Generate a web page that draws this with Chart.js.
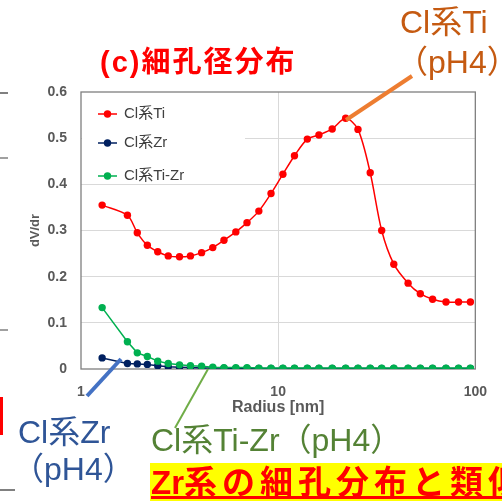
<!DOCTYPE html>
<html>
<head>
<meta charset="utf-8">
<script src="https://cdn.jsdelivr.net/npm/chart.js@4.4.1/dist/chart.umd.min.js"></script>
<style>
body { margin: 0; background: #fff; }
#wrap { position: relative; width: 502px; height: 502px; overflow: hidden; font-family: "Liberation Sans", "Noto Sans CJK JP", sans-serif; }
#chart { position: absolute; left: 0; top: 0; }
.t { position: absolute; white-space: nowrap; line-height: 1; }
.frag { position: absolute; }
svg { position: absolute; left: 0; top: 0; }
</style>
</head>
<body>
<div id="wrap">
  <canvas id="chart" width="502" height="502"></canvas>

  <div class="frag" style="left:0;top:92px;width:8px;height:2px;background:#808080"></div>
  <div class="frag" style="left:0;top:157px;width:8px;height:2px;background:#a0a0a0"></div>
  <div class="frag" style="left:0;top:329px;width:8px;height:2px;background:#a0a0a0"></div>
  <div class="frag" style="left:0;top:489px;width:15px;height:2px;background:#808080"></div>
  <div class="frag" style="left:0;top:397px;width:3px;height:38px;background:#ff0000"></div>

  <div class="t" style="left:100px;top:48px;font-size:29px;font-weight:bold;color:#ff0000;letter-spacing:2px">(c)細孔径分布</div>
  <div class="t" style="left:400px;top:6px;font-size:32px;color:#c55a11">Cl系Ti</div>
  <div class="t" style="left:396px;top:46px;font-size:32px;color:#c55a11">（pH4）</div>
  <div class="t" style="left:18px;top:416px;font-size:32px;color:#2f5597">Cl系Zr</div>
  <div class="t" style="left:12px;top:453px;font-size:32px;color:#2f5597">（pH4）</div>
  <div class="t" style="left:151px;top:424px;font-size:32px;color:#548235">Cl系Ti-Zr（pH4）</div>
  <div class="t" style="left:150px;top:463px;width:352px;height:38px;overflow:hidden;background:#ffff00;">
    <span style="position:absolute;left:1px;top:3px;font-size:33px;font-weight:bold;color:#ff0000;text-decoration:underline;line-height:1">Zr<span style="letter-spacing:5px">系の細孔分布と類似</span></span>
  </div>

  <svg width="502" height="502">
    <line x1="346" y1="120" x2="412" y2="76" stroke="#ed7d31" stroke-width="4"/>
    <line x1="87" y1="396" x2="121" y2="359" stroke="#4472c4" stroke-width="4"/>
    <line x1="208" y1="369" x2="175" y2="428" stroke="#70ad47" stroke-width="2"/>
  </svg>
</div>

<script>
// pore radius [nm]
var radius = [1.28, 1.72, 1.93, 2.17, 2.45, 2.77, 3.16, 3.59, 4.09, 4.66, 5.31, 6.10, 6.95, 7.98, 9.2,
    10.57, 12.1, 14.06, 16.1, 18.8, 22.0, 25.4, 29.3, 33.5, 38.6, 45.6, 52.6, 60.7, 71.0, 82.2, 94.4];
// dV/dr
var clTi = [0.355, 0.333, 0.295, 0.268, 0.254, 0.245, 0.243, 0.245, 0.252, 0.263, 0.279, 0.297, 0.317, 0.342, 0.380,
    0.422, 0.462, 0.498, 0.507, 0.520, 0.543, 0.519, 0.425, 0.300, 0.227, 0.186, 0.163, 0.151, 0.145, 0.145, 0.145];
var clZr = [0.024, 0.012, 0.011, 0.010, 0.007, 0.005, 0.004, 0.003, 0.002, 0.002, 0.002, 0.001, 0.001, 0.001, 0.001,
    0.001, 0.001, 0.001, 0.001, 0.001, 0.001, 0.001, 0.001, 0.001, 0.001, 0.001, 0.001, 0.001, 0.001, 0.001, 0.001];
var clTiZr = [0.133, 0.059, 0.035, 0.027, 0.017, 0.012, 0.009, 0.007, 0.006, 0.004, 0.003, 0.003, 0.003, 0.002, 0.002,
    0.002, 0.002, 0.002, 0.002, 0.002, 0.002, 0.002, 0.002, 0.002, 0.002, 0.002, 0.002, 0.002, 0.002, 0.002, 0.002];
var seriesNames = ['Cl系Ti', 'Cl系Zr', 'Cl系Ti-Zr'];
var xTicks = [1, 10, 100];
var yTicks = [0, 0.1, 0.2, 0.3, 0.4, 0.5, 0.6];

function toPoints(values) {
    return values.map(function(v, i) { return { x: radius[i], y: v }; });
}

var FONT = '"Liberation Sans", "Noto Sans CJK JP", sans-serif';

// plot frame
var framePlugin = {
    id: 'frame',
    beforeDatasetsDraw: function(chart) {
        var a = chart.chartArea, ctx = chart.ctx;
        ctx.save();
        ctx.strokeStyle = '#7f7f7f';
        ctx.lineWidth = 1.3;
        ctx.strokeRect(a.left, a.top, a.right - a.left, a.bottom - a.top);
        ctx.restore();
    }
};

// legend drawn inside the plot, upper left
var legendPlugin = {
    id: 'innerLegend',
    afterDatasetsDraw: function(chart) {
        var ctx = chart.ctx, a = chart.chartArea;
        var rows = [114, 143, 176];
        ctx.save();
        ctx.fillStyle = '#ffffff';
        ctx.fillRect(a.left + 1, a.top + 1, 163, 89);
        chart.data.datasets.forEach(function(ds, i) {
            var y = rows[i];
            ctx.strokeStyle = ds.borderColor;
            ctx.lineWidth = 1.5;
            ctx.beginPath();
            ctx.moveTo(98, y);
            ctx.lineTo(117, y);
            ctx.stroke();
            ctx.fillStyle = ds.borderColor;
            ctx.beginPath();
            ctx.arc(107.5, y, 3.7, 0, Math.PI * 2);
            ctx.fill();
            ctx.fillStyle = '#404040';
            ctx.font = '15px ' + FONT;
            ctx.textBaseline = 'middle';
            ctx.fillText(ds.label, 124, y);
        });
        ctx.restore();
    }
};

var ctx = document.getElementById('chart').getContext('2d');
var chart = new Chart(ctx, {
    type: 'line',
    data: {
        datasets: [{
            label: seriesNames[0],
            data: toPoints(clTi),
            borderColor: '#ff0000',
            backgroundColor: '#ff0000',
            borderWidth: 1.5,
            pointRadius: 3.7,
            pointBorderWidth: 0,
            tension: 0.3,
            order: 1
        }, {
            label: seriesNames[1],
            data: toPoints(clZr),
            borderColor: '#002060',
            backgroundColor: '#002060',
            borderWidth: 1.5,
            pointRadius: 3.7,
            pointBorderWidth: 0,
            tension: 0,
            order: 2
        }, {
            label: seriesNames[2],
            data: toPoints(clTiZr),
            borderColor: '#00b050',
            backgroundColor: '#00b050',
            borderWidth: 1.5,
            pointRadius: 3.7,
            pointBorderWidth: 0,
            tension: 0,
            order: 0
        }]
    },
    options: {
        responsive: false,
        animation: false,
        layout: {
            padding: { left: 0, right: 19, top: 92, bottom: 83 }
        },
        plugins: {
            legend: { display: false },
            tooltip: { enabled: false }
        },
        scales: {
            x: {
                type: 'logarithmic',
                min: 1,
                max: 100,
                afterBuildTicks: function(scale) {
                    scale.ticks = xTicks.map(function(v) { return { value: v }; });
                },
                afterFit: function(scale) { scale.height = 50; },
                border: { display: false },
                grid: {
                    drawTicks: false,
                    color: function(c) {
                        return c.tick && c.tick.value === 10 ? '#d9d9d9' : 'rgba(0,0,0,0)';
                    }
                },
                ticks: {
                    padding: 15,
                    autoSkip: false,
                    maxRotation: 0,
                    color: '#595959',
                    font: { family: FONT, size: 14, weight: 'bold' },
                    callback: function(v) { return String(v); }
                },
                title: {
                    display: true,
                    text: 'Radius [nm]',
                    color: '#595959',
                    font: { family: FONT, size: 16, weight: 'bold' },
                    padding: { top: 0, bottom: 2 }
                }
            },
            y: {
                min: 0,
                max: 0.6,
                afterBuildTicks: function(scale) {
                    scale.ticks = yTicks.map(function(v) { return { value: v }; });
                },
                afterFit: function(scale) { scale.width = 81; },
                border: { display: false },
                grid: {
                    drawTicks: false,
                    color: function(c) {
                        return c.tick && c.tick.value > 0 && c.tick.value < 0.6 ? '#d9d9d9' : 'rgba(0,0,0,0)';
                    }
                },
                ticks: {
                    padding: 14,
                    color: '#595959',
                    font: { family: FONT, size: 14, weight: 'bold' },
                    callback: function(v) { return String(Math.round(v * 10) / 10); }
                },
                title: {
                    display: true,
                    text: 'dV/dr',
                    color: '#595959',
                    font: { family: FONT, size: 13, weight: 'bold' },
                    padding: { top: 28, bottom: 0 }
                }
            }
        }
    },
    plugins: [framePlugin, legendPlugin]
});
</script>
</body>
</html>
